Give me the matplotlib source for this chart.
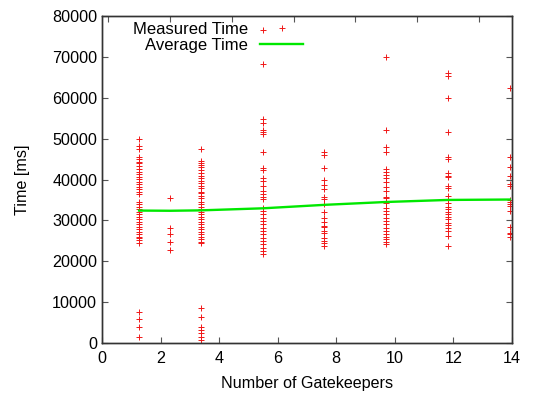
import matplotlib
matplotlib.use("Agg")
import matplotlib.pyplot as plt

plt.rcParams['font.family'] = ['Liberation Sans', 'DejaVu Sans']

# measured times [ms] per number of gatekeepers
gk1 = [49800, 48170, 47500, 45400, 44900, 44330, 43940, 43280, 42470, 41880,
       41320, 40660, 40020, 39440, 38880, 38220, 37580, 37000, 36430, 34550,
       33990, 33320, 32690, 32100, 31540, 30880, 30250, 29660, 29100, 28440,
       27800, 27210, 26650, 25990, 25600, 25180, 24380, 7650, 5790, 3990, 1390]
gk2 = [35380, 28040, 26580, 24620, 22740]
gk3 = [47360, 44570, 44080, 43520, 42950, 42300, 41630, 40830, 40270, 39670,
       39030, 38370, 37810, 36990, 36600, 35940, 35380, 34550, 33990, 33330,
       32690, 32100, 31540, 30880, 30250, 29660, 29100, 28440, 27800, 27210,
       26650, 25990, 25350, 24770, 24380, 8480, 6290, 3840, 3180, 2370, 1540, 730]
gk5 = [76500, 68140, 54770, 53720, 52080, 51520, 51100, 46630, 42720, 42300,
       40270, 39610, 38380, 37160, 36360, 35770, 35210, 32930, 32270, 31470,
       30640, 29830, 29020, 28200, 27380, 26580, 25750, 24940, 24140, 23300,
       22490, 21690]
gk7 = [46770, 45970, 42710, 39850, 38630, 37580, 35620, 35130, 33990, 32100,
       30490, 29660, 28610, 28290, 27460, 26970, 25600, 25010, 24380, 23720]
gk9 = [70000, 52080, 48000, 46630, 42540, 41880, 41080, 40270, 39290, 38220,
       37160, 35770, 35380, 34160, 32930, 32270, 31470, 30640, 29830, 29020,
       28200, 27380, 26580, 25990, 25430, 24770, 24140]
gk11 = [65940, 65280, 59830, 51660, 45550, 44910, 41490, 40830, 40510, 38390,
        37820, 35940, 34960, 34160, 33330, 32690, 32100, 31540, 30880, 30250,
        29410, 28850, 28040, 27460, 26160, 23720]
gk13 = [62420, 45550, 42960, 40900, 38880, 38460, 34960, 34550, 33990, 33500,
        32200, 28440, 26970, 26580, 25990]

gatekeepers = [1, 2, 3, 5, 7, 9, 11, 13]
measured = [gk1, gk2, gk3, gk5, gk7, gk9, gk11, gk13]
average = [32400, 32350, 32450, 32950, 33800, 34500, 35000, 35100]

xs, ys = [], []
for g, vals in zip(gatekeepers, measured):
    xs += [g] * len(vals)
    ys += vals

fig = plt.figure(figsize=(5.53, 3.94), dpi=100)
fig.subplots_adjust(left=102/553, right=512/553, top=1-16/394, bottom=1-343/394)
ax = fig.add_subplot(111)

ax.plot(xs, ys, linestyle='none', marker='+', color='#f01818', markersize=4.2,
        markeredgewidth=0.7, label='Measured Time')
ax.plot(gatekeepers, average, color='#00e800', linewidth=1.7, label='Average Time')

# bottom axis labels (0..14) as drawn in the original
ax2 = ax.twiny()
ax2.set_xlim(0, 14)
ax2.set_xticks(range(0, 15, 2))
ax2.xaxis.set_ticks_position('bottom')
ax2.xaxis.set_label_position('bottom')
ax2.tick_params(axis='x', direction='in', length=4, labelsize=11.6, color='#555555', pad=6)
ax2.set_xlabel('Number of Gatekeepers', fontsize=11.6, labelpad=7)

ax.set_xlim(-0.2, 13.07)
ax.set_ylim(0, 80000)
ax.set_xticks(range(0, 13, 2))
ax.xaxis.set_ticks_position('top')
ax.tick_params(axis='x', labeltop=False, labelbottom=False, top=True, bottom=False,
               direction='in', length=4, color='#555555')
ax.set_yticks(range(0, 80001, 10000))
ax.tick_params(axis='y', direction='in', length=4, left=True, right=True,
               labelsize=11.6, color='#555555')
ax.set_ylabel('Time [ms]', fontsize=11.6, labelpad=16)

for a in (ax, ax2):
    for s in a.spines.values():
        s.set_color('#333333')
        s.set_linewidth(1.0)

leg = ax.legend(loc='upper left', bbox_to_anchor=(0.075, 0.982), frameon=False,
                markerfirst=False, numpoints=1, fontsize=12, borderpad=0,
                borderaxespad=0, handlelength=2.6, handletextpad=0.72,
                labelspacing=0.05)

fig.savefig('out.png', dpi=100)
